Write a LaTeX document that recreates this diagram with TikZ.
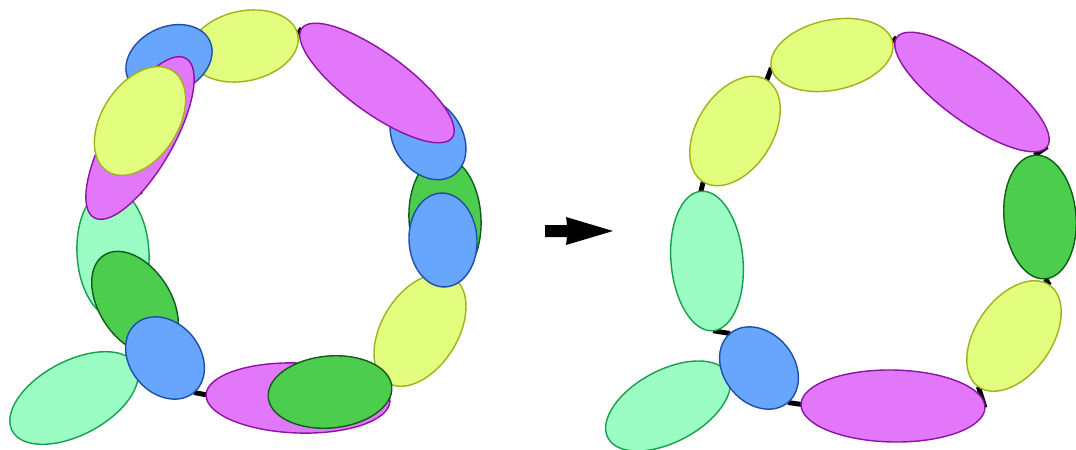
\documentclass[tikz,border=0pt]{standalone}
\usepackage{tikz}
\usepackage{xcolor}
\usetikzlibrary{shapes.geometric}
\usetikzlibrary{backgrounds}

\definecolor{ylwfill}{HTML}{E3FD7E}
\definecolor{ylwline}{HTML}{9DB31C}
\definecolor{magfill}{HTML}{E277F9}
\definecolor{magline}{HTML}{8E12A6}
\definecolor{blufill}{HTML}{68A5FC}
\definecolor{bluline}{HTML}{1D4FAA}
\definecolor{dgrfill}{HTML}{4DCD4E}
\definecolor{dgrline}{HTML}{0E5C1A}
\definecolor{lgrfill}{HTML}{9BFDC3}
\definecolor{lgrline}{HTML}{16A04C}

\begin{document}
\begin{tikzpicture}[x=0.02cm,y=-0.02cm,
    blob/.style n args={3}{shape=ellipse,line width=.8pt,inner sep=0pt,
      outer sep=0pt,minimum width=#1*0.04cm,minimum height=#2*0.04cm,
      rotate=#3},
    ylw/.style={draw=ylwline,fill=ylwfill},
    mag/.style={draw=magline,fill=magfill},
    blu/.style={draw=bluline,fill=blufill},
    dgr/.style={draw=dgrline,fill=dgrfill},
    lgr/.style={draw=lgrline,fill=lgrfill},
    link/.style={line width=2.8pt}]
  \useasboundingbox (0,0) rectangle (1076,450);

  % before
  \node (lYt)  [blob={55}{35}{12},ylw]  at (244,46)  {};
  \node (lGl)  [blob={65}{36}{93},lgr]  at (113,253) {};
  \node (lDr)  [blob={62}{36}{93},dgr]  at (445,219) {};
  \node (lYr)  [blob={62}{38}{58},ylw]  at (420,330) {};
  \node (lMb)  [blob={92}{35}{-2},mag]  at (298,398) {};
  \node (lGbl) [blob={70}{37}{28},lgr]  at (74,398)  {};
  \node (lBtl) [blob={45}{33}{25},blu]  at (169,60)  {};
  \node (lMl)  [blob={92}{33}{60},mag]  at (140,138) {};
  \node (lYl)  [blob={60}{38}{57},ylw]  at (140,121) {};
  \node (lDl)  [blob={57}{36}{-57},dgr] at (135,303) {};
  \node (lBb)  [blob={45}{35}{-50},blu] at (165,358) {};
  \node (lDb)  [blob={62}{36}{5},dgr]   at (330,392) {};
  \node (lBr)  [blob={47}{34}{93},blu]  at (443,240) {};
  \node (lBtr) [blob={45}{34}{-55},blu] at (428,138) {};
  \node (lMtr) [blob={93}{30}{-36},mag] at (377,83)  {};

  \fill (545,225) -- (567,225) -- (566,217) -- (613,231) -- (566,245)
    -- (567,237) -- (545,237) -- cycle;

  % after
  \node (rGbl) [blob={68}{36}{28},lgr]  at (668,406) {};
  \node (rB)   [blob={45}{35}{-50},blu] at (759,368) {};
  \node (rGl)  [blob={70}{36}{95},lgr]  at (707,261) {};
  \node (rYl)  [blob={60}{38}{58},ylw]  at (735,131) {};
  \node (rYt)  [blob={62}{35}{12},ylw]  at (832,55)  {};
  \node (rMt)  [blob={93}{30}{-36},mag] at (972,92)  {};
  \node (rDg)  [blob={62}{36}{95},dgr]  at (1040,217) {};
  \node (rYr)  [blob={62}{38}{55},ylw]  at (1014,336) {};
  \node (rMb)  [blob={92}{36}{-1},mag]  at (893,406) {};

  \begin{scope}[on background layer]
    \draw[link] (lYt.east) -- (lMtr.west) (lMtr) -- (lBtr) -- (lDr) -- (lBr)
      -- (lYr) (lYr.west) -- (lDb) -- (lMb) (lMb.west) -- (lBb.east)
      (lBb) -- (lGbl.east) (lBb) -- (lDl) -- (lGl) -- (lMl) -- (lYl)
      -- (lBtl) -- (lYt);
    \draw[link] (rYl.west) -- (rGl.east) (rGl.west) -- (rB.west)
      (rB.east) -- (rMb.west) (rMb.east) -- (rYr.west)
      (rYr.east) -- (rDg.west) (rDg.east) -- (rMt.east)
      (rMt.west) -- (rYt.east) (rYt.west) -- (rYl.east)
      (rB) -- (rGbl.east);
  \end{scope}
\end{tikzpicture}
\end{document}
